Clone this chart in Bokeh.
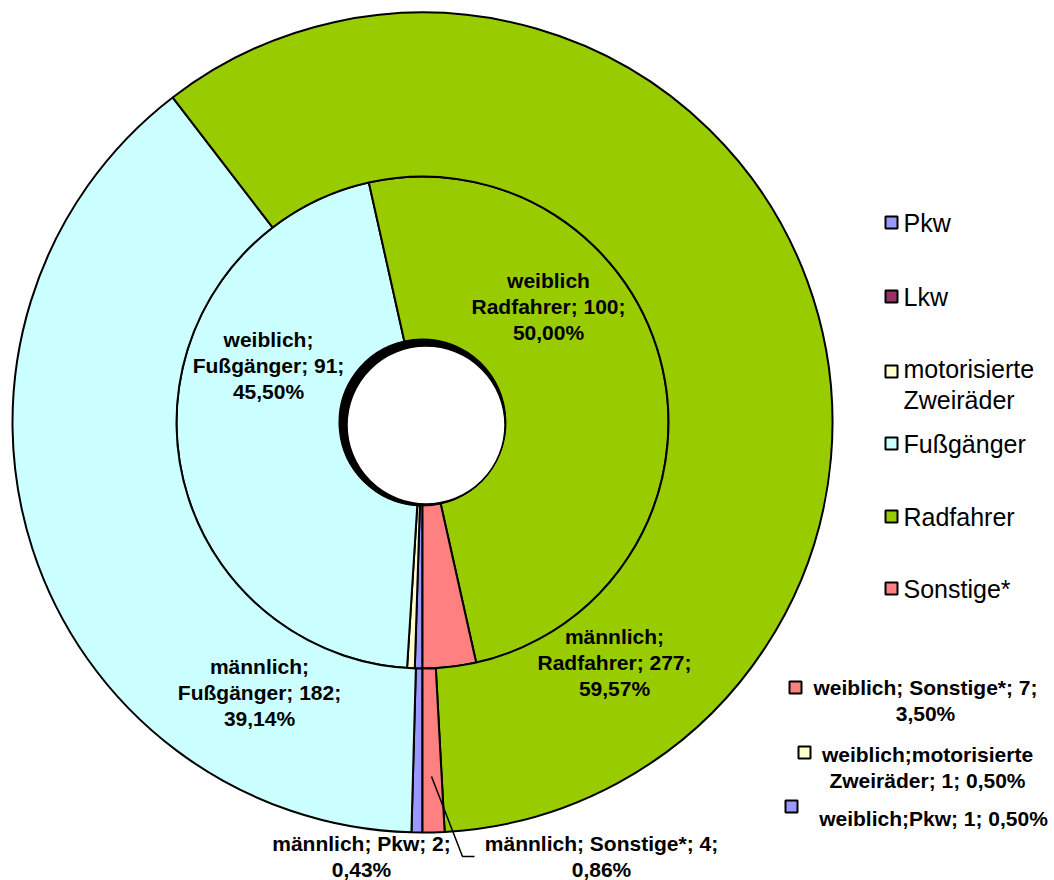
import numpy as np
from bokeh.plotting import figure
from bokeh.models import Range1d
from bokeh.core.properties import value
from bokeh.embed import file_html
from bokeh.resources import INLINE

# ---------------- data ----------------
categories = ["Pkw", "Lkw", "motorisierte\nZweiräder", "Fußgänger", "Radfahrer", "Sonstige*"]
maennlich = [2, 0, 0, 182, 277, 4]
weiblich = [1, 0, 1, 91, 100, 7]
colors = ["#9999FF", "#993366", "#FFFFCC", "#CCFFFF", "#99CC00", "#FF8080"]

W, H = 1054, 880
def Y(y):
    return H - y

CX, CY = 422, Y(422)
R_HOLE, R_MID, R_OUT = 83, 246, 410
FIRST_SLICE = 180  # degrees clockwise from 12 o'clock

FONT = value("Liberation Sans")

p = figure(width=W, height=H, output_backend="svg", toolbar_location=None,
           x_range=Range1d(0, W), y_range=Range1d(0, H),
           min_border=0, outline_line_color=None, background_fill_color="white",
           border_fill_color="white")
p.axis.visible = False
p.grid.visible = False


def ring(vals, r_in, r_out):
    vals = np.array(vals, dtype=float)
    total = vals.sum()
    cum = np.concatenate([[0], np.cumsum(vals)])
    a0 = 90 - FIRST_SLICE
    ends = np.radians(a0 - 360 * cum[:-1] / total)
    starts = np.radians(a0 - 360 * cum[1:] / total)
    mask = vals > 0
    p.annular_wedge(x=CX, y=CY, inner_radius=r_in, outer_radius=r_out,
                    start_angle=starts[mask], end_angle=ends[mask],
                    fill_color=[c for c, m in zip(colors, mask) if m],
                    line_color="black", line_width=2)
    return vals / total * 100


pct_w = ring(weiblich, R_HOLE, R_MID)
pct_m = ring(maennlich, R_MID, R_OUT)

# hole
p.circle(x=[CX], y=[CY], radius=R_HOLE, fill_color="black", line_color="black")
p.circle(x=[425.5], y=[Y(424.5)], radius=79, fill_color="white", line_color="black", line_width=1.5)


def fmt(v):
    return f"{v:.2f}".replace(".", ",") + "%"

# data labels (text built from data)
labels = [
    (f"weiblich\nRadfahrer; {weiblich[4]};\n{fmt(pct_w[4])}", 548, 306),
    (f"weiblich;\nFußgänger; {weiblich[3]};\n{fmt(pct_w[3])}", 268, 365),
    (f"männlich;\nRadfahrer; {maennlich[4]};\n{fmt(pct_m[4])}", 614, 662),
    (f"männlich;\nFußgänger; {maennlich[3]};\n{fmt(pct_m[3])}", 259, 692),
    (f"männlich; Pkw; {maennlich[0]};\n{fmt(pct_m[0])}", 361, 856),
    (f"männlich; Sonstige*; {maennlich[5]};\n{fmt(pct_m[5])}", 601, 856),
    (f"weiblich; Sonstige*; {weiblich[5]};\n{fmt(pct_w[5])}", 925, 700),
    (f"weiblich;motorisierte\nZweiräder; {weiblich[2]}; {fmt(pct_w[2])}", 927, 767),
    (f"weiblich;Pkw; {weiblich[0]}; {fmt(pct_w[0])}", 933, 818),
]
p.text(x=[l[1] for l in labels], y=[Y(l[2]) for l in labels], text=[l[0] for l in labels],
       text_font=FONT, text_font_style="bold", text_font_size="21px",
       text_align="center", text_baseline="middle", text_line_height=1.15, text_color="black")

# legend keys for outside labels
p.rect(x=[795, 804, 791], y=[Y(687), Y(752), Y(806)], width=12, height=12,
       fill_color=[colors[5], colors[2], colors[0]], line_color="black", line_width=2)

# leader line for männlich Sonstige
p.line(x=[431, 462, 474], y=[Y(776), Y(856), Y(856)], line_color="black", line_width=1.5)

# legend
leg_y = [222, 296, 384, 443, 516, 588]
sq_y = [222, 296, 371, 443, 516, 588]
p.rect(x=[891] * 6, y=[Y(v) for v in sq_y], width=12, height=12,
       fill_color=colors, line_color="black", line_width=2)
p.text(x=[903] * 6, y=[Y(v) for v in leg_y], text=categories,
       text_font=FONT, text_font_size="25px", text_align="left",
       text_baseline="middle", text_line_height=1.12, text_color="black")

open("out.html", "w").write(file_html(p, INLINE))
